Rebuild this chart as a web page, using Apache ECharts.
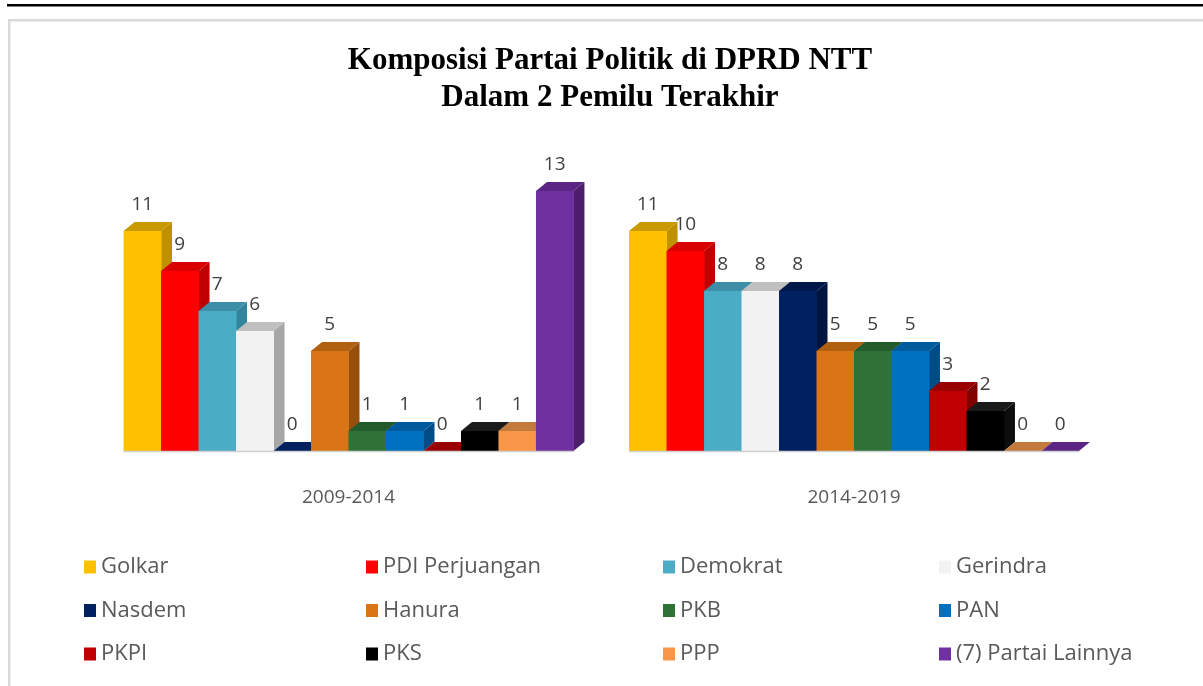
<!DOCTYPE html>
<html>
<head>
<meta charset="utf-8">
<script src="https://cdn.jsdelivr.net/npm/echarts@6/dist/echarts.min.js"></script>
<style>html,body{margin:0;padding:0;background:#fff;}#c{width:1203px;height:686px;}</style>
</head>
<body>
<div id="c"></div>
<script>
const categories = ['2009-2014', '2014-2019'];
const parties = ['Golkar', 'PDI Perjuangan', 'Demokrat', 'Gerindra', 'Nasdem', 'Hanura', 'PKB', 'PAN', 'PKPI', 'PKS', 'PPP', '(7) Partai Lainnya'];
const seats2009 = [11, 9, 7, 6, 0, 5, 1, 1, 0, 1, 1, 13];
const seats2014 = [11, 10, 8, 8, 8, 5, 5, 5, 3, 2, 0, 0];
const frontColors = ['#FFC000', '#FF0000', '#4BACC6', '#F2F2F2', '#002060', '#D97517', '#2E7237', '#0070C0', '#C00000', '#000000', '#F79646', '#7030A0'];
const sideColors  = ['#BF9000', '#C00000', '#31859C', '#A6A6A6', '#001540', '#974F0C', '#1E4D24', '#004C86', '#800000', '#0D0D0D', '#B86D30', '#4B1F6B'];
const topColors   = ['#C99A00', '#D90000', '#3C8FA6', '#C0C0C0', '#00174A', '#B0600F', '#245B2C', '#005A9E', '#990000', '#1A1A1A', '#C47A3C', '#5A2584'];

const chart = echarts.init(document.getElementById('c'));
const DX = 11, DY = 9, CLUSTER = 0.89;
const N = parties.length;

function renderItem(params, api) {
  const si = params.seriesIndex;
  const cat = api.value(0);
  const val = api.value(1);
  const band = api.size([1, 0])[0];
  const base = api.coord([cat, 0]);
  const top = api.coord([cat, val]);
  const cw = band * CLUSTER;
  const w = cw / N;
  const x0 = base[0] - cw / 2 + si * w;
  const x1 = x0 + w;
  const yb = base[1];
  let yt = top[1];
  const children = [];
  if (val > 0) {
    children.push({ type: 'polygon', shape: { points: [[x1, yt], [x1 + DX, yt - DY], [x1 + DX, yb - DY], [x1, yb]] }, style: { fill: sideColors[si] } });
    children.push({ type: 'polygon', shape: { points: [[x0, yt], [x0 + DX, yt - DY], [x1 + DX, yt - DY], [x1, yt]] }, style: { fill: topColors[si] } });
    children.push({ type: 'rect', shape: { x: x0, y: yt, width: w + 0.5, height: yb - yt }, style: { fill: frontColors[si] } });
  } else {
    children.push({ type: 'polygon', shape: { points: [[x0, yb], [x0 + DX, yb - DY], [x1 + DX, yb - DY], [x1, yb]] }, style: { fill: si === 4 ? '#002060' : topColors[si] } });
  }
  children.push({ type: 'line', shape: { x1: x0, y1: yb + 0.5, x2: x1 + 0.5, y2: yb + 0.5 }, style: { stroke: '#D0D0D0', lineWidth: 1.5 } });
  children.push({ type: 'text', x: (x0 + x1) / 2, y: yt - DY - 17, style: { text: String(val), textAlign: 'center', textVerticalAlign: 'middle', fontFamily: 'Open Sans', fontSize: 19, fill: '#404040' } });
  return { type: 'group', children: children };
}

const series = parties.map((p, i) => ({
  name: p,
  type: 'custom',
  renderItem: renderItem,
  itemStyle: { color: frontColors[i] },
  data: [[0, seats2009[i]], [1, seats2014[i]]],
  encode: { x: 0, y: 1 }
}));

function legendCol(left, names) {
  return {
    orient: 'vertical', left: left, top: 556, padding: 0, itemWidth: 12, itemHeight: 13, itemGap: 21.5,
    icon: 'rect', data: names,
    textStyle: { fontFamily: 'Open Sans', fontSize: 22, color: '#595959', lineHeight: 22 }
  };
}

chart.setOption({
  animation: false,
  backgroundColor: '#ffffff',
  grid: { left: 95.75, right: 96.25, top: 171, bottom: 235 },
  xAxis: {
    type: 'category', data: categories,
    axisLine: { show: false }, axisTick: { show: false }, splitLine: { show: false },
    axisLabel: { margin: 37, fontFamily: 'Open Sans', fontSize: 19, color: '#595959' }
  },
  yAxis: { type: 'value', min: 0, max: 14, show: false },
  legend: [
    legendCol(84, ['Golkar', 'Nasdem', 'PKPI']),
    legendCol(366, ['PDI Perjuangan', 'Hanura', 'PKS']),
    legendCol(663, ['Demokrat', 'PKB', 'PPP']),
    legendCol(939, ['Gerindra', 'PAN', '(7) Partai Lainnya'])
  ],
  graphic: [
    { type: 'rect', shape: { x: 7, y: 4, width: 1196, height: 2.5 }, style: { fill: '#000' }, silent: true },
    { type: 'rect', shape: { x: 8, y: 19, width: 1195, height: 2.5 }, style: { fill: '#D9D9D9' }, silent: true },
    { type: 'rect', shape: { x: 8, y: 19, width: 2.5, height: 667 }, style: { fill: '#D9D9D9' }, silent: true },
    { type: 'text', x: 610, y: 61, style: { text: 'Komposisi Partai Politik di DPRD NTT', textAlign: 'center', textVerticalAlign: 'middle', fontFamily: 'Liberation Serif', fontWeight: 'bold', fontSize: 31, fill: '#000' } },
    { type: 'text', x: 610, y: 98, style: { text: 'Dalam 2 Pemilu Terakhir', textAlign: 'center', textVerticalAlign: 'middle', fontFamily: 'Liberation Serif', fontWeight: 'bold', fontSize: 31, fill: '#000' } }
  ],
  series: series
});
</script>
</body>
</html>
